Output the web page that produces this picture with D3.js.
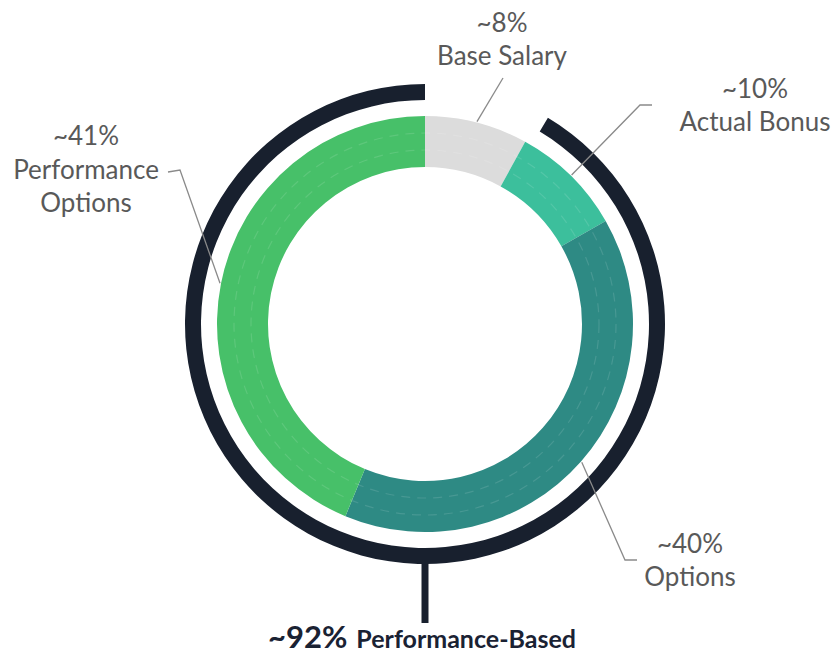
<!DOCTYPE html>
<html>
<head>
<meta charset="utf-8">
<script src="https://cdn.jsdelivr.net/npm/d3@7"></script>
<style>
  html, body { margin: 0; padding: 0; background: #fff; }
  svg { display: block; }
  .lbl { font-family: Lato, "Open Sans", sans-serif; fill: #595959; }
  .total { font-family: Lato, "Open Sans", sans-serif; font-weight: bold; fill: #1a2233; }
</style>
</head>
<body>
<svg id="chart" width="833" height="655"></svg>
<script>
// segments of pay, clockwise from 12 o'clock
var segments = ["Base Salary", "Actual Bonus", "Options", "Performance Options"];
var labelPct = ["~8%", "~10%", "~40%", "~41%"];
// arc sizes as drawn (percent of the ring)
var arcShare = [8, 8.75, 39.5, 43.75];
var perfShare = 92;
var totalLabel = ["~92%", "Performance-Based"];

var colors = ["#dcdcdc", "#3cbf9c", "#2e8a84", "#47c069"];

var width = 833, height = 655;
var cx = 425, cy = 324;
var rIn = 157, rOut = 208;
var ringR = 232, ringW = 16;

// label placement: [x, first baseline] and leader bend points
var labelLayout = [
    { x: 502, y: 32,  lines: 2, pts: [[503, 78]] },
    { x: 755, y: 98,  lines: 2, pts: [[640, 105], [652, 105]] },
    { x: 690, y: 553, lines: 2, pts: [[625, 560], [637, 560]] },
    { x: 86,  y: 145, lines: 3, pts: [[180, 170], [168, 172]] }
];

var svg = d3.select("#chart");
var g = svg.append("g").attr("transform", "translate(" + cx + "," + cy + ")");

var pie = d3.pie().sort(null).value(function (d) { return d; });
var arcs = pie(arcShare);

var arc = d3.arc().innerRadius(rIn).outerRadius(rOut);

g.selectAll(".slice")
    .data(arcs)
    .enter().append("path")
    .attr("class", "slice")
    .attr("d", arc)
    .attr("fill", function (d, i) { return colors[i]; });

/* faint dashed rings inside the donut */
[174, 191].forEach(function (r) {
    g.append("circle")
        .attr("r", r)
        .attr("fill", "none")
        .attr("stroke", "#ffffff")
        .attr("stroke-opacity", 0.12)
        .attr("stroke-width", 1.2)
        .attr("stroke-dasharray", "9 7");
});

/* leader lines */
var line = d3.line();
arcs.forEach(function (d, i) {
    var mid = (d.startAngle + d.endAngle) / 2;
    var p0 = d3.pointRadial(mid, rOut + 1);
    var pts = [[p0[0] + cx, p0[1] + cy]].concat(labelLayout[i].pts);
    svg.append("path")
        .attr("d", line(pts))
        .attr("fill", "none")
        .attr("stroke", "#8a8a8a")
        .attr("stroke-width", 1.3);
});

/* performance-based outer ring */
var ringStart = 2 * Math.PI * (1 - perfShare / 100) + 0.035;
g.append("path")
    .attr("d", d3.arc()
        .innerRadius(ringR - ringW / 2)
        .outerRadius(ringR + ringW / 2)
        .startAngle(ringStart)
        .endAngle(2 * Math.PI)())
    .attr("fill", "#18202e");

g.append("line")
    .attr("x1", 0).attr("x2", 0)
    .attr("y1", ringR).attr("y2", 299)
    .attr("stroke", "#18202e")
    .attr("stroke-width", 7);

/* segment labels */
segments.forEach(function (name, i) {
    var L = labelLayout[i];
    var words = L.lines === 3 ? name.split(" ") : [name];
    var rows = [labelPct[i]].concat(words);
    var t = svg.append("text")
        .attr("class", "lbl")
        .attr("text-anchor", "middle")
        .style("font-size", "26px");
    rows.forEach(function (s, k) {
        t.append("tspan")
            .attr("x", L.x)
            .attr("y", L.y + k * (L.lines === 3 ? 33.5 : 33))
            .text(s);
    });
});

/* total label */
var tot = svg.append("text")
    .attr("class", "total")
    .attr("x", 268)
    .attr("y", 648);
tot.append("tspan").style("font-size", "31px").text(totalLabel[0]);
tot.append("tspan").attr("dx", 9).style("font-size", "25px").text(totalLabel[1]);
</script>
</body>
</html>
